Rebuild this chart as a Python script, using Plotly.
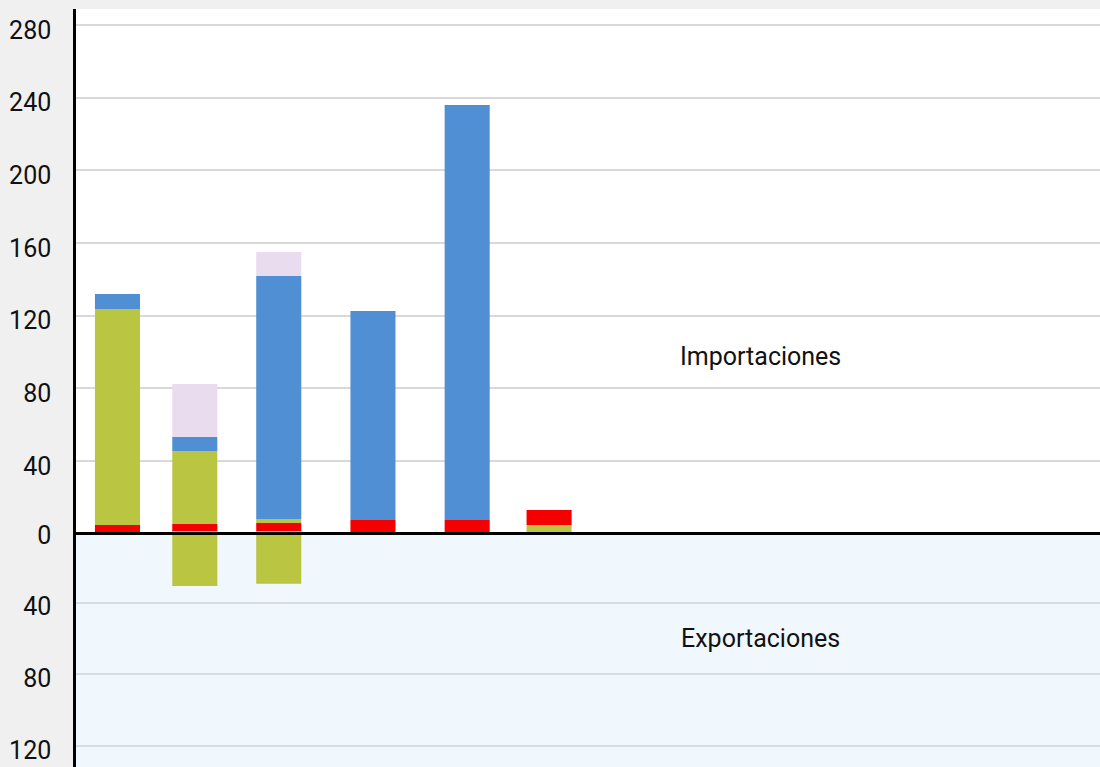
import plotly.graph_objects as go

# Bar positions on a 0-100 horizontal scale
x_pos = [4.05, 11.6, 19.8, 29.0, 38.2, 46.2]

# Importaciones (stacked, bottom to top)
imp_green_base = [0, 0, 0, 0, 0, 4.7]
imp_red = [4.7, 5.2, 5.8, 7.4, 7.4, 8.2]
imp_green = [118.9, 40.2, 2.2, 0, 0, 0]
imp_blue = [8.3, 7.7, 133.8, 115.1, 228.6, 0]
imp_lavender = [0, 29.2, 13.2, 0, 0, 0]

# Exportaciones (shown downward)
exp_green = [0, 30.7, 29.4, 0, 0, 0]

top_ticks = [40, 80, 120, 160, 200, 240, 280]
bottom_ticks = [0, 40, 80, 120]

RED = "#f50000"
GREEN = "#bac542"
BLUE = "#508fd4"
LAV = "#e8dcee"

FONT = "Roboto"
bar_w = 4.4

fig = go.Figure()

for vals, col, name in [
    (imp_green_base, GREEN, "Imp. A"),
    (imp_red, RED, "Imp. B"),
    (imp_green, GREEN, "Imp. C"),
    (imp_blue, BLUE, "Imp. D"),
    (imp_lavender, LAV, "Imp. E"),
]:
    fig.add_trace(go.Bar(x=x_pos, y=vals, width=bar_w, marker=dict(color=col, line=dict(width=0)),
                         name=name, xaxis="x", yaxis="y"))

fig.add_trace(go.Bar(x=x_pos, y=exp_green, width=bar_w, marker=dict(color=GREEN, line=dict(width=0)),
                     name="Exp. C", xaxis="x", yaxis="y2"))

H = 767
t = 9
ph = H - t
top_dom0 = (H - 533.5) / ph
bot_dom1 = (H - 531) / ph

fig.update_layout(
    width=1100, height=767,
    margin=dict(l=76, r=0, t=t, b=0, pad=0),
    paper_bgcolor="#f0f0f0",
    plot_bgcolor="rgba(0,0,0,0)",
    barmode="relative",
    showlegend=False,
    font=dict(family=FONT, color="#111111"),
    xaxis=dict(range=[0, 100], visible=False, fixedrange=True),
    yaxis=dict(
        domain=[top_dom0, 1], range=[0, (533.5 - 9) / 1.816], anchor="x",
        tickvals=top_ticks, ticktext=[str(v) for v in top_ticks],
        tickfont=dict(size=25, family=FONT, color="#111111"),
        showgrid=True, gridcolor="#d9d9d9", gridwidth=1.5,
        zeroline=False, showline=True, linecolor="#000000", linewidth=2.5,
        ticks="", ticklabelstandoff=17, ticklabelshift=5,
    ),
    yaxis2=dict(
        domain=[0, bot_dom1], range=[(767 - 531) / 1.79, 0], anchor="x",
        tickvals=bottom_ticks, ticktext=[str(v) for v in bottom_ticks],
        tickfont=dict(size=25, family=FONT, color="#111111"),
        showgrid=True, gridcolor="#d5dde3", gridwidth=1.5,
        zeroline=False, showline=True, linecolor="#000000", linewidth=2.5,
        ticks="", ticklabelstandoff=17, ticklabelshift=-4,
    ),
    shapes=[
        dict(type="rect", xref="paper", yref="paper", x0=0, x1=1, y0=top_dom0, y1=1,
             fillcolor="#ffffff", line=dict(width=0), layer="below"),
        dict(type="rect", xref="paper", yref="paper", x0=0, x1=1, y0=0, y1=top_dom0,
             fillcolor="#f0f7fd", line=dict(width=0), layer="below"),
        dict(type="line", xref="paper", yref="paper", x0=0, x1=1, y0=top_dom0, y1=top_dom0,
             line=dict(color="#000000", width=3)),
    ],
    annotations=[
        dict(text="Importaciones", xref="paper", yref="y", x=0.668, y=97.2,
             xanchor="center", yanchor="middle",
             showarrow=False, font=dict(size=25, family=FONT, color="#111111")),
        dict(text="Exportaciones", xref="paper", yref="y2", x=0.668, y=60.3,
             xanchor="center", yanchor="middle",
             showarrow=False, font=dict(size=25, family=FONT, color="#111111")),
    ],
)

fig.write_html("out.html", config={"displayModeBar": False},
               post_script="document.body.style.margin='0';document.body.style.overflow='hidden';")
